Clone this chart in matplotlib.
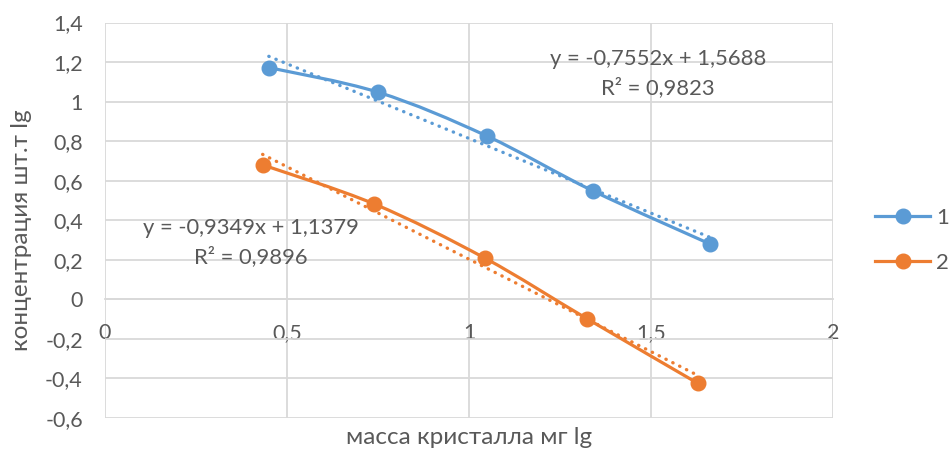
import numpy as np
import matplotlib
matplotlib.use("Agg")
import matplotlib.pyplot as plt
from matplotlib.path import Path
from matplotlib.patches import PathPatch
from matplotlib.lines import Line2D

plt.rcParams['font.family'] = ['Lato', 'DejaVu Sans']

# данные
x1 = [0.45, 0.751, 1.049, 1.341, 1.662]
y1 = [1.172, 1.047, 0.826, 0.548, 0.280]
x2 = [0.433, 0.740, 1.044, 1.325, 1.628]
y2 = [0.680, 0.482, 0.208, -0.099, -0.424]
names = ['1', '2']
trend1 = (-0.7552, 1.5688, 0.9823)
trend2 = (-0.9349, 1.1379, 0.9896)
xticks = [0, 0.5, 1, 1.5, 2]
yticks = [-0.6, -0.4, -0.2, 0, 0.2, 0.4, 0.6, 0.8, 1.0, 1.2, 1.4]

blue = '#5B9BD5'
orange = '#ED7D31'
grey = '#595959'
grid = '#D9D9D9'


def comma(v):
    s = ('%g' % v).replace('.', ',')
    return '0' if s == '-0' else s


def smooth_path(xs, ys):
    # кривая Безье как "сглаженная линия" в Excel
    p = np.column_stack([xs, ys])
    n = len(p)
    verts = [p[0]]
    codes = [Path.MOVETO]
    for i in range(n - 1):
        p0 = p[i - 1] if i > 0 else p[i]
        p3 = p[i + 2] if i + 2 < n else p[i + 1]
        c1 = p[i] + (p[i + 1] - p0) / 6
        c2 = p[i + 1] - (p3 - p[i]) / 6
        verts += [c1, c2, p[i + 1]]
        codes += [Path.CURVE4] * 3
    return Path(verts, codes)


fig = plt.figure(figsize=(9.53, 4.51), dpi=100)
ax = fig.add_axes([0.1102, 0.0732, 0.7639, 0.8769])

for xs, ys, c, tr in [(x1, y1, blue, trend1), (x2, y2, orange, trend2)]:
    tx = np.array([min(xs), max(xs)])
    ax.plot(tx, tr[0] * tx + tr[1], color=c, lw=2.4, ls=(0, (0.1, 2.2)),
            dash_capstyle='round', zorder=4)
    ax.add_patch(PathPatch(smooth_path(xs, ys), fill=False, ec=c, lw=2.3,
                           capstyle='round', zorder=3))
    ax.plot(xs, ys, 'o', color=c, ms=10.5, zorder=5)

ax.set_xlim(0, 2)
ax.set_ylim(-0.6, 1.4)
ax.set_xticks(xticks)
ax.set_yticks(yticks)
ax.set_xticklabels([comma(v) for v in xticks])
ax.set_yticklabels([comma(v) for v in yticks])
ax.grid(True, color=grid, lw=1.3)
ax.set_axisbelow(True)
for s in ['top', 'right', 'left']:
    ax.spines[s].set_visible(False)
ax.spines['bottom'].set_position(('data', 0))
ax.spines['bottom'].set_color(grid)
ax.spines['bottom'].set_linewidth(1.3)
ax.tick_params(axis='both', length=0, labelsize=15.5, labelcolor=grey)
ax.tick_params(axis='x', pad=17)
ax.tick_params(axis='y', pad=16)

fig.text(0.023, 0.49, 'концентрация шт.т lg', fontsize=17.5, color=grey,
         ha='center', va='center', rotation=90)
fig.text(0.492, 0.03, 'масса кристалла мг lg', fontsize=17.5, color=grey,
         ha='center', va='center')

ax.text(1.52, 1.215, 'y = -0,7552x + 1,5688', fontsize=15.8, color=grey,
        ha='center', va='center')
ax.text(1.52, 1.07, 'R² = 0,9823', fontsize=15.8, color=grey,
        ha='center', va='center')
ax.text(0.4, 0.36, 'y = -0,9349x + 1,1379', fontsize=15.8, color=grey,
        ha='center', va='center')
ax.text(0.4, 0.215, 'R² = 0,9896', fontsize=15.8, color=grey,
        ha='center', va='center')

handles = [Line2D([], [], color=blue, lw=2.3, marker='o', ms=10.5),
           Line2D([], [], color=orange, lw=2.3, marker='o', ms=10.5)]
fig.legend(handles, names, loc='center left', bbox_to_anchor=(0.918, 0.467),
           frameon=False, fontsize=16, labelcolor=grey, handlelength=2.5,
           handletextpad=0.25, labelspacing=1.15, borderpad=0,
           borderaxespad=0)

fig.savefig('out.png', dpi=100)
